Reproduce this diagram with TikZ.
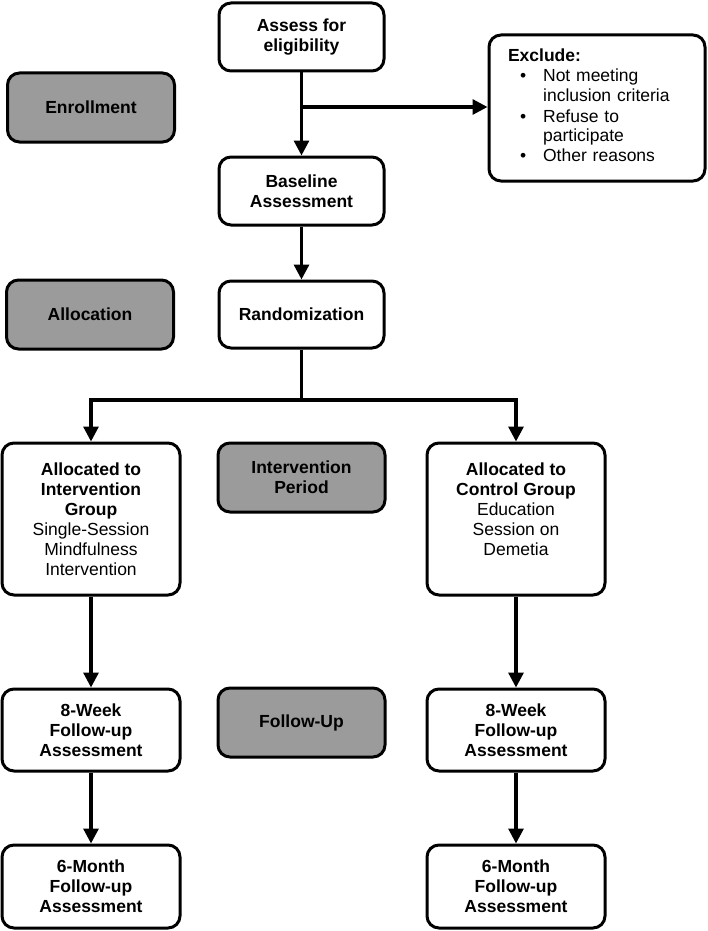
\documentclass[tikz,border=0pt]{standalone}
\usepackage{fontspec}
\setmainfont{Liberation Sans}
\usetikzlibrary{arrows.meta}
\definecolor{phasegray}{HTML}{9B9B9B}

\begin{document}
\begin{tikzpicture}[x=1pt,y=-1pt,
	box/.style={draw,line width=3pt,rounded corners=12pt,fill=white,align=center,
		font=\fontsize{17.5}{20}\selectfont\bfseries,inner sep=0pt},
	phase/.style={box,fill=phasegray,minimum width=167pt,minimum height=69pt},
	arr/.style={line width=3.2pt,-{Triangle[length=15pt,width=15pt]}}]
	\useasboundingbox (0,0) rectangle (708,931);
	% centre column
	\node[box,minimum width=165pt,minimum height=68pt] (assess) at (301.5,37) {Assess for\\eligibility};
	\node[box,minimum width=165pt,minimum height=68pt] (baseline) at (301.5,191) {Baseline\\Assessment};
	\node[box,minimum width=165pt,minimum height=67pt] (random) at (301.5,314.5) {Randomization};
	\node[box,minimum width=216pt,minimum height=146pt,text width=178pt,align=left] (exclude) at (597,108)
		{\begin{tabular}{@{}c@{\hspace{17pt}}l@{}}
			\multicolumn{2}{@{}l}{Exclude:}\\
			\mdseries\hspace{12pt}\textbullet & \mdseries Not meeting\\
			& \mdseries inclusion criteria\\
			\mdseries\hspace{12pt}\textbullet & \mdseries Refuse to\\
			& \mdseries participate\\
			\mdseries\hspace{12pt}\textbullet & \mdseries Other reasons
		\end{tabular}};
	% phases
	\node[phase] (enrol) at (91,107.5) {Enrollment};
	\node[phase] (alloc) at (90,314.5) {Allocation};
	\node[phase] (period) at (301.5,477.5) {Intervention\\Period};
	\node[phase] (follow) at (301.5,722.5) {Follow-Up};
	% arms
	\node[box,minimum width=178pt,minimum height=152pt] (intv) at (91,519)
		{Allocated to\\Intervention\\Group\\\mdseries Single-Session\\\mdseries Mindfulness\\\mdseries Intervention};
	\node[box,minimum width=178pt,minimum height=152pt] (ctrl) at (516,519)
		{Allocated to\\Control Group\\\mdseries Education\\\mdseries Session on\\\mdseries Demetia\\~};
	\node[box,minimum width=178pt,minimum height=82pt] (weekL) at (91,730) {8-Week\\Follow-up\\Assessment};
	\node[box,minimum width=178pt,minimum height=82pt] (weekR) at (516,730) {8-Week\\Follow-up\\Assessment};
	\node[box,minimum width=178pt,minimum height=83pt] (monthL) at (91,886.5) {6-Month\\Follow-up\\Assessment};
	\node[box,minimum width=178pt,minimum height=83pt] (monthR) at (516,886.5) {6-Month\\Follow-up\\Assessment};
	% connectors
	\coordinate (split) at (301.5,107);
	\coordinate (fork) at (301.5,400);
	\draw[arr] (assess) -- (baseline);
	\draw[arr] (split) -- (split -| exclude.west);
	\draw[arr] (baseline) -- (random);
	\draw[line width=3.2pt] (random) -- (fork);
	\draw[arr] (fork) -| (intv);
	\draw[arr] (fork) -| (ctrl);
	\draw[arr] (intv) -- (weekL);
	\draw[arr] (ctrl) -- (weekR);
	\draw[arr] (weekL) -- (monthL);
	\draw[arr] (weekR) -- (monthR);
\end{tikzpicture}
\end{document}
